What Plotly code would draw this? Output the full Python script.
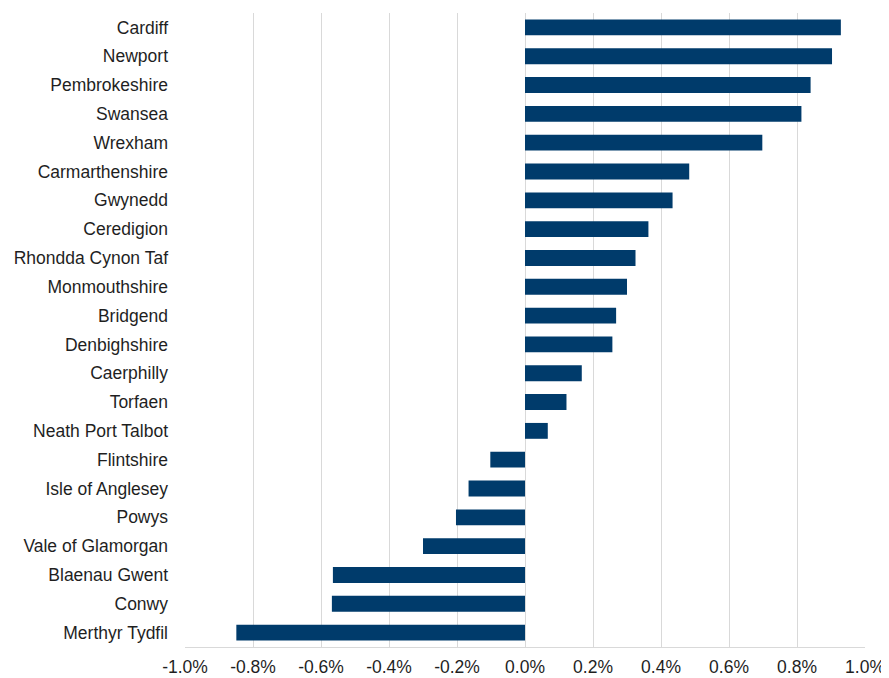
import plotly.graph_objects as go

areas = ["Cardiff", "Newport", "Pembrokeshire", "Swansea", "Wrexham", "Carmarthenshire",
         "Gwynedd", "Ceredigion", "Rhondda Cynon Taf", "Monmouthshire", "Bridgend",
         "Denbighshire", "Caerphilly", "Torfaen", "Neath Port Talbot", "Flintshire",
         "Isle of Anglesey", "Powys", "Vale of Glamorgan", "Blaenau Gwent", "Conwy",
         "Merthyr Tydfil"]
change_pct = [0.929, 0.903, 0.840, 0.813, 0.698, 0.483, 0.434, 0.363, 0.325, 0.300,
              0.268, 0.257, 0.167, 0.122, 0.067, -0.102, -0.166, -0.203, -0.300,
              -0.565, -0.568, -0.849]
tick_vals = [-1.0, -0.8, -0.6, -0.4, -0.2, 0.0, 0.2, 0.4, 0.6, 0.8, 1.0]
tick_text = ["-1.0%", "-0.8%", "-0.6%", "-0.4%", "-0.2%", "0.0%", "0.2%", "0.4%",
             "0.6%", "0.8%", "1.0%"]

fig = go.Figure(go.Bar(
    x=change_pct, y=areas, orientation="h",
    marker=dict(color="#003b6b", line=dict(width=0)),
    hovertemplate="%{y}: %{x:.2f}%<extra></extra>",
))

# page body has an 8px default margin, so the figure is sized/offset to compensate
fig.update_layout(
    width=881, height=670,
    margin=dict(l=177, r=24, t=5, b=31),
    paper_bgcolor="white", plot_bgcolor="white",
    bargap=0.45,
    showlegend=False,
    font=dict(family="Liberation Sans, Arial, sans-serif", size=17.5, color="#1f1f1f"),
)
fig.update_xaxes(
    range=[-1.0, 1.0], tickvals=tick_vals, ticktext=tick_text,
    showgrid=True, gridcolor="#d9d9d9", gridwidth=1,
    zeroline=True, zerolinecolor="#d9d9d9", zerolinewidth=1,
    showline=True, linecolor="#d9d9d9", linewidth=1,
    ticks="", ticklabelstandoff=4, automargin=False,
    tickfont=dict(size=17.5, color="#1f1f1f"),
)
fig.update_yaxes(
    autorange="reversed", showgrid=False, zeroline=False, showline=False,
    ticks="", ticklabelstandoff=16, automargin=False,
    tickfont=dict(size=17.5, color="#1f1f1f"),
)

fig.write_html("out.html")
